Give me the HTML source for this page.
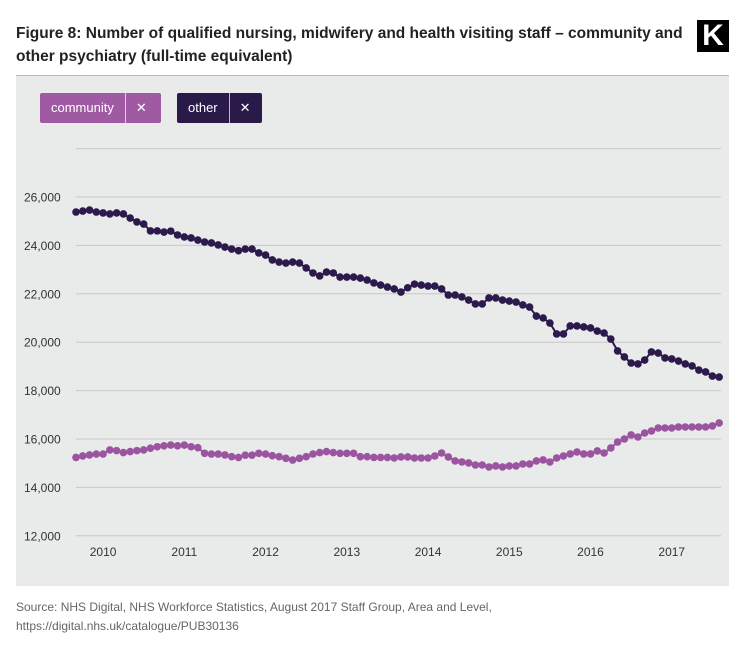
<!DOCTYPE html>
<html><head><meta charset="utf-8"><style>
body{margin:0;width:745px;height:666px;background:#fff;font-family:"Liberation Sans",sans-serif;overflow:hidden;position:relative}
.title{position:absolute;left:16px;top:22px;width:670px;font-size:15.5px;font-weight:bold;color:#222;line-height:23px}
.logo{position:absolute;left:697px;top:20px;width:32px;height:32px;background:#000;color:#fff;font-weight:bold;font-size:30px;text-align:center;line-height:32px}
.panel{position:absolute;left:16px;top:75px;width:713px;height:510px;background:#e9eaea;border-top:1px solid #bbb}
.btn{position:absolute;top:17px;height:30px;color:#fff;font-size:13px;line-height:30px;border-radius:2px}
.btn span{display:inline-block;padding:0 11px}
.btn .x{border-left:1px solid rgba(255,255,255,.7);padding:0 10px}
.src{position:absolute;left:16px;top:598px;font-size:12px;color:#666;line-height:19px}
</style></head><body>
<div class="title">Figure 8: Number of qualified nursing, midwifery and health visiting staff – community and other psychiatry (full-time equivalent)</div>
<div class="logo">K</div>
<div class="panel">
<div class="btn" style="left:24px;width:121px;background:#a05aa3"><span>community</span><span class="x">✕</span></div>
<div class="btn" style="left:161px;width:85px;background:#2a1a4a"><span>other</span><span class="x">✕</span></div>
</div>
<svg id="chart" width="745" height="666" style="position:absolute;left:0;top:0"></svg>
<div class="src">Source: NHS Digital, NHS Workforce Statistics, August 2017 Staff Group, Area and Level,<br>https://digital.nhs.uk/catalogue/PUB30136</div>
<script>
const yTicks=[12000,14000,16000,18000,20000,22000,24000,26000,28000];
const yTickLabels=["12,000","14,000","16,000","18,000","20,000","22,000","24,000","26,000",""];
const xYears=["2010","2011","2012","2013","2014","2015","2016","2017"];
const other=[25380,25420,25460,25380,25340,25300,25340,25300,25130,24970,24880,24600,
24600,24550,24590,24430,24350,24310,24220,24140,24100,24020,23930,23850,
23780,23850,23850,23690,23600,23400,23310,23270,23310,23270,23070,22860,
22740,22900,22860,22690,22690,22690,22650,22570,22450,22360,22280,22200,
22070,22250,22400,22360,22320,22320,22200,21950,21950,21870,21740,21580,
21580,21830,21830,21740,21700,21660,21540,21450,21080,21000,20790,20340,
20340,20670,20670,20630,20590,20460,20380,20130,19640,19390,19140,19100,
19260,19600,19550,19350,19310,19220,19100,19020,18850,18770,18600,18560];
const community=[15240,15300,15340,15380,15380,15550,15520,15440,15480,15520,15550,15620,
15680,15720,15750,15720,15750,15680,15640,15410,15380,15380,15340,15270,
15240,15330,15330,15410,15380,15310,15270,15200,15130,15200,15270,15380,
15440,15480,15440,15410,15410,15410,15270,15270,15240,15240,15240,15215,
15257,15257,15215,15215,15215,15298,15422,15257,15092,15050,15009,14926,
14926,14843,14885,14843,14885,14885,14967,14967,15092,15133,15050,15215,
15298,15381,15463,15381,15381,15505,15422,15629,15876,16000,16166,16083,
16248,16331,16455,16455,16455,16496,16496,16496,16496,16496,16538,16662];
const svg=document.getElementById('chart');const NS='http://www.w3.org/2000/svg';
const y=v=>197+(26000-v)/2000*48.4;
const x=i=>76+i*6.77;
function mk(t,a){const e=document.createElementNS(NS,t);for(const k in a)e.setAttribute(k,a[k]);svg.appendChild(e);return e;}
yTicks.forEach((v,k)=>{
 const g=mk('line',{x1:76,x2:721,y1:y(v),y2:y(v),stroke:'#c8c8c8','stroke-width':1});
 
 
 const t=mk('text',{x:24,y:y(v)+4.5,'font-size':12,fill:'#333','font-family':'Liberation Sans, sans-serif'});
 t.textContent=yTickLabels[k];
 
 
});
xYears.forEach((s,k)=>{
 const t=mk('text',{x:x(4+12*k),y:556,'font-size':12,fill:'#333','text-anchor':'middle','font-family':'Liberation Sans, sans-serif'});
 t.textContent=s;
 
 
});
function series(d,c,name){
 const p=mk('polyline',{points:d.map((v,i)=>x(i)+','+y(v)).join(' '),fill:'none',stroke:c,'stroke-width':2});
 
 
 d.forEach((v,i)=>{const c1=mk('circle',{cx:x(i),cy:y(v),r:3.8,fill:c});
  
  });
}
series(community,'#9b55a0','community');
series(other,'#2b1a4b','other');
</script>
</body></html>
